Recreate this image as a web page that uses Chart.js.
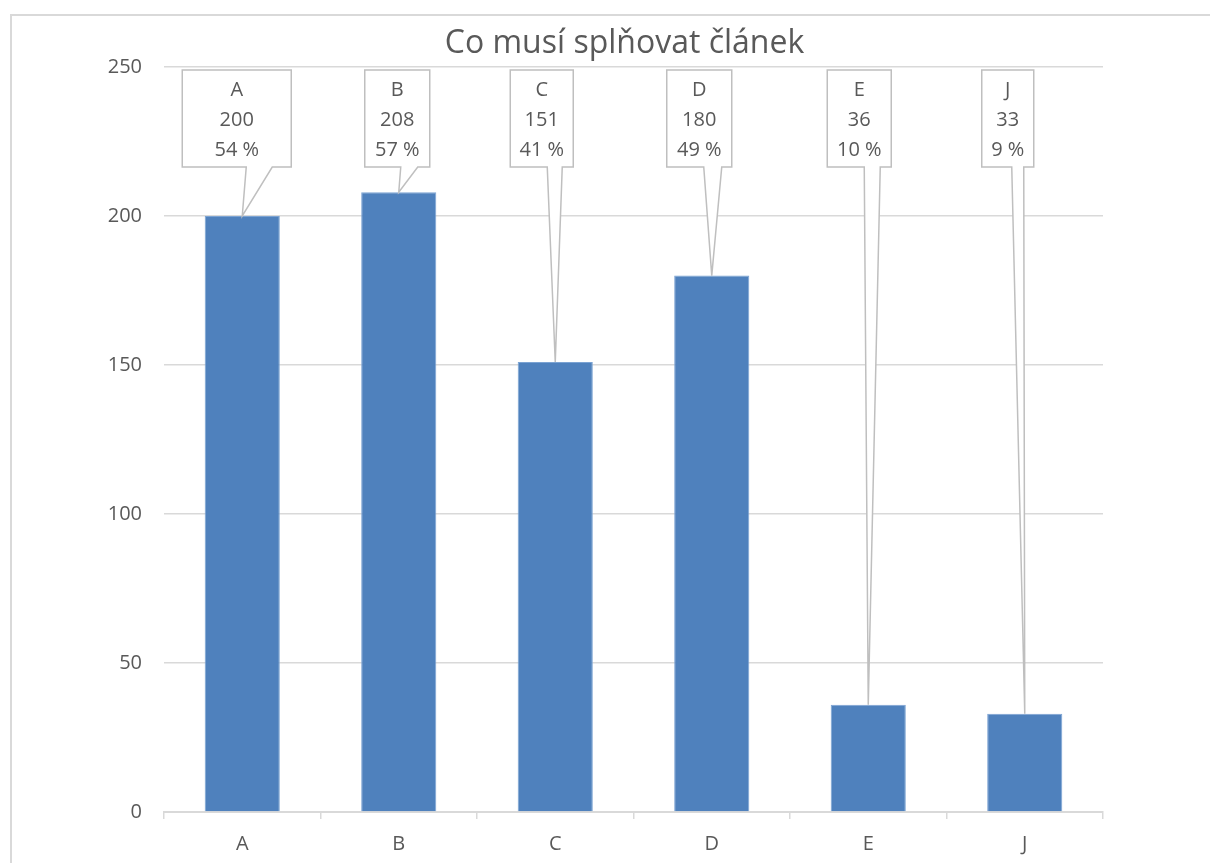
<!DOCTYPE html>
<html>
<head>
<meta charset="utf-8">
<script src="https://cdn.jsdelivr.net/npm/chart.js@4"></script>
<style>
    body { margin: 0; background: #fff; overflow: hidden; }
    #frame {
        position: absolute; left: 10px; top: 14px; width: 1300px; height: 900px;
        border-left: 2px solid #D9D9D9; border-top: 2px solid #D9D9D9;
    }
    #wrap { position: absolute; left: 0; top: 0; width: 1210px; height: 863px; }
</style>
</head>
<body>
<div id="frame"></div>
<div id="wrap"><canvas id="barChart" width="1210" height="863"></canvas></div>
<script>
// chart data
const chartTitle = 'Co musí splňovat článek';
const categories = ['A', 'B', 'C', 'D', 'E', 'J'];
const counts = [200, 208, 151, 180, 36, 33];
const percents = [54, 57, 41, 49, 10, 9];
const yTicks = [0, 50, 100, 150, 200, 250];

// callout layout, relative to bar centre: box [left, right], wedge base [left, right]
const calloutBox = [[-60, 49], [-34, 31], [-45, 18], [-45, 20], [-41, 23], [-43, 9]];
const calloutWedge = [[4, 30], [2, 19], [-8, 7], [-8, 10], [-4, 12], [-13, -1]];

const textColor = '#595959';
const gridColor = '#D9D9D9';
const fontFamily = "'Open Sans', sans-serif";

// title drawn by hand, slightly left of the plot centre like in Excel
const titlePlugin = {
    id: 'excelTitle',
    afterDraw(chart) {
        let c = chart.ctx;
        c.save();
        c.fillStyle = textColor;
        c.font = '32px ' + fontFamily;
        c.textAlign = 'center';
        c.textBaseline = 'middle';
        let area = chart.chartArea;
        c.fillText(chartTitle, (area.left + area.right) / 2 - 9, area.top - 23);
        c.restore();
    }
};

// draws the Excel like callouts above each bar
const calloutPlugin = {
    id: 'callouts',
    afterDatasetsDraw(chart) {
        let c = chart.ctx;
        let meta = chart.getDatasetMeta(0);
        let top = chart.chartArea.top + 3;
        let height = 97;

        meta.data.forEach((bar, i) => {
            let x0 = bar.x + calloutBox[i][0];
            let x1 = bar.x + calloutBox[i][1];
            let bottom = top + height;

            c.save();
            c.beginPath();
            c.moveTo(x0, top);
            c.lineTo(x1, top);
            c.lineTo(x1, bottom);
            c.lineTo(bar.x + calloutWedge[i][1], bottom);
            c.lineTo(bar.x, bar.y);
            c.lineTo(bar.x + calloutWedge[i][0], bottom);
            c.lineTo(x0, bottom);
            c.closePath();
            c.fillStyle = '#ffffff';
            c.fill();
            c.strokeStyle = '#BFBFBF';
            c.lineWidth = 1.5;
            c.stroke();

            // three lines of text
            c.fillStyle = textColor;
            c.font = '20px ' + fontFamily;
            c.textAlign = 'center';
            c.textBaseline = 'middle';
            let cx = (x0 + x1) / 2;
            let lines = [categories[i], String(counts[i]), percents[i] + ' %'];
            lines.forEach((txt, k) => {
                c.fillText(txt, cx, top + 20 + k * 30);
            });
            c.restore();
        });
    }
};

let ctx = document.getElementById('barChart');

new Chart(ctx, {
    type: 'bar',
    data: {
        labels: categories,
        datasets: [{
            label: chartTitle,
            data: counts,
            backgroundColor: '#4F81BD',
            borderColor: '#7BA3D3',
            borderWidth: 1,
            barPercentage: 0.48,
            categoryPercentage: 1
        }]
    },
    options: {
        responsive: false,
        animation: false,
        devicePixelRatio: 1,
        layout: {
            padding: { left: 60, right: 107, top: 67, bottom: 0 }
        },
        plugins: {
            legend: { display: false },
            tooltip: { enabled: false },
            title: { display: false }
        },
        scales: {
            x: {
                grid: {
                    display: true,
                    drawOnChartArea: false,
                    drawTicks: true,
                    tickLength: 7,
                    color: gridColor,
                    lineWidth: 1.5
                },
                border: { display: true, color: gridColor, width: 2 },
                ticks: {
                    color: textColor,
                    font: { family: fontFamily, size: 20 },
                    padding: 13
                },
                afterFit(scale) { scale.height = 51; }
            },
            y: {
                min: 0,
                max: 250,
                afterBuildTicks(scale) {
                    scale.ticks = yTicks.map(v => ({ value: v }));
                },
                grid: { color: gridColor, lineWidth: 1.5, drawTicks: false },
                border: { display: false },
                ticks: {
                    color: textColor,
                    font: { family: fontFamily, size: 20 },
                    padding: 22
                },
                afterFit(scale) { scale.width = 104; }
            }
        }
    },
    plugins: [calloutPlugin, titlePlugin]
});
</script>
</body>
</html>
